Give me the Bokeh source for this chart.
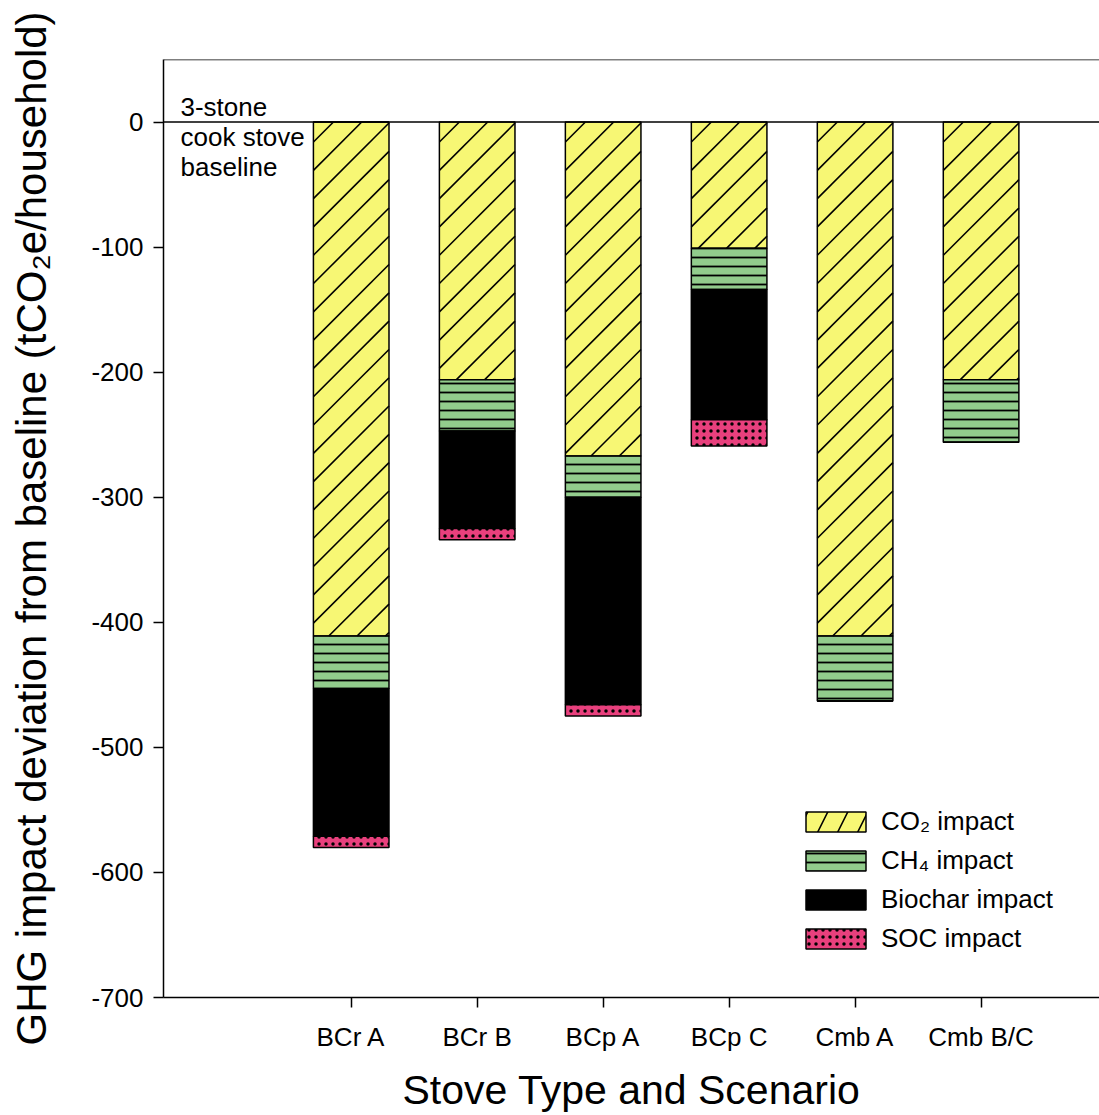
from bokeh.plotting import figure
from bokeh.models import ColumnDataSource, FixedTicker, Span, Range1d, Legend, LegendItem
from bokeh.core.properties import value
from bokeh.embed import file_html
from bokeh.resources import INLINE

# Stove type / scenario categories and their GHG impact components (tCO2e/household)
stoves = ["BCr A", "BCr B", "BCp A", "BCp C", "Cmb A", "Cmb B/C"]
co2_impact = [-411, -206, -267, -101, -411, -206]
ch4_impact = [-42, -41, -33, -33, -52, -50]
biochar_impact = [-118, -78, -166, -104, 0, 0]
soc_impact = [-9, -9, -9, -21, 0, 0]

y_ticks = [-700, -600, -500, -400, -300, -200, -100, 0]
legend_labels = ["CO\u2082 impact", "CH\u2084 impact", "Biochar impact", "SOC impact"]
baseline_note = "3-stone\ncook stove\nbaseline"

FONT = "Liberation Sans"
COLORS = ["#F7F774", "#92CC8C", "#000000", "#E8407D"]

# canvas layout (pixels) and data ranges
PLOT_W, PLOT_H = 1099, 1115
BORDER_L, BORDER_R, BORDER_T, BORDER_B = 163, 0, 59, 118
X_START, X_END = -0.49, 6.94
Y_START, Y_END = -700, 50
BAR_W = 0.6

positions = list(range(1, len(stoves) + 1))
source = ColumnDataSource(dict(
    pos=positions,
    co2=co2_impact,
    ch4=ch4_impact,
    biochar=biochar_impact,
    soc=soc_impact,
))

p = figure(
    width=PLOT_W, height=PLOT_H,
    x_range=Range1d(X_START, X_END), y_range=Range1d(Y_START, Y_END),
    output_backend="svg", toolbar_location=None,
    min_border_left=BORDER_L, min_border_right=BORDER_R,
    min_border_top=BORDER_T, min_border_bottom=BORDER_B,
)
p.outline_line_color = None
p.grid.visible = False

stack = p.vbar_stack(
    ["co2", "ch4", "biochar", "soc"],
    x="pos", width=BAR_W, source=source,
    fill_color=COLORS,
    line_color="black", line_width=1.5,
    hatch_pattern=[None, "-", None, "."],
    hatch_scale=[12, 9, 12, 7],
    hatch_weight=[1, 1.8, 1, 2.5],
    hatch_color="black",
)

# 45-degree "/" hatching of the CO2 segments, clipped to each bar
px_per_x = (PLOT_W - BORDER_L - BORDER_R) / (X_END - X_START)
px_per_y = (PLOT_H - BORDER_T - BORDER_B) / (Y_END - Y_START)
step, phase = 28.3, 20.0
hx0, hy0, hx1, hy1 = [], [], [], []
for pos, co2 in zip(positions, co2_impact):
    left, bottom = pos - BAR_W / 2, co2
    w_px = BAR_W * px_per_x
    h_px = -co2 * px_per_y
    k = 0
    while True:
        c = h_px - phase - step * k
        if c <= -w_px:
            break
        xa, xb = max(0.0, -c), min(w_px, h_px - c)
        if xb > xa:
            hx0.append(left + xa / px_per_x)
            hy0.append(bottom + (xa + c) / px_per_y)
            hx1.append(left + xb / px_per_x)
            hy1.append(bottom + (xb + c) / px_per_y)
        k += 1
p.segment(x0=hx0, y0=hy0, x1=hx1, y1=hy1, line_color="black", line_width=1.6)

# legend swatch for the CO2 series: a zero-height bar sitting on the first bar's top edge
co2_swatch = p.vbar(x=positions[:1], top=[0], bottom=[0], width=BAR_W,
                    fill_color=COLORS[0], line_color="black", line_width=1.5,
                    hatch_pattern="/", hatch_scale=40, hatch_weight=1.6,
                    hatch_color="black")

# zero baseline and top frame line
p.add_layout(Span(location=0, dimension="width", line_color="black", line_width=1.5))
p.add_layout(Span(location=Y_END, dimension="width", line_color="black", line_width=1.5))

p.text(x=[-0.355], y=[24], text=[baseline_note],
       text_font=value(FONT), text_font_size="26px", text_color="black",
       text_baseline="top", text_align="left", text_line_height=1.0)

for ax in (p.xaxis[0], p.yaxis[0]):
    ax.axis_line_width = 1.5
    ax.axis_line_color = "black"
    ax.major_tick_line_width = 1.5
    ax.major_tick_line_color = "black"
    ax.major_tick_in = 0
    ax.major_tick_out = 10
    ax.minor_tick_line_color = None
    ax.major_label_text_font = FONT
    ax.major_label_text_font_size = "26px"
    ax.major_label_text_color = "black"
    ax.axis_label_text_font = FONT
    ax.axis_label_text_font_style = "normal"
    ax.axis_label_text_color = "black"

p.yaxis.ticker = FixedTicker(ticks=y_ticks)
p.yaxis.major_label_overrides = {t: str(t) for t in y_ticks}
p.yaxis.major_label_standoff = 10
p.yaxis.axis_label = "GHG impact deviation from baseline (tCO\u2082e/household)"
p.yaxis.axis_label_text_font_size = "42px"
p.yaxis.axis_label_standoff = 33

p.xaxis.ticker = FixedTicker(ticks=positions)
p.xaxis.major_label_overrides = {i: s for i, s in zip(positions, stoves)}
p.xaxis.major_label_standoff = 14
p.xaxis.axis_label = "Stove Type and Scenario"
p.xaxis.axis_label_text_font_size = "41px"
p.xaxis.axis_label_standoff = 12

legend_renderers = [co2_swatch, stack[1], stack[2], stack[3]]
leg = Legend(items=[LegendItem(label=lab, renderers=[r])
                    for lab, r in zip(legend_labels, legend_renderers)])
leg.location = (635, 43)
leg.background_fill_alpha = 0
leg.border_line_color = None
leg.padding = 0
leg.margin = 0
leg.spacing = 8
leg.glyph_width = 75
leg.glyph_height = 25
leg.label_height = 25
leg.label_standoff = 8
leg.label_text_font = FONT
leg.label_text_font_size = "26px"
leg.label_text_color = "black"
p.add_layout(leg)

open("out.html", "w").write(file_html(p, INLINE))
